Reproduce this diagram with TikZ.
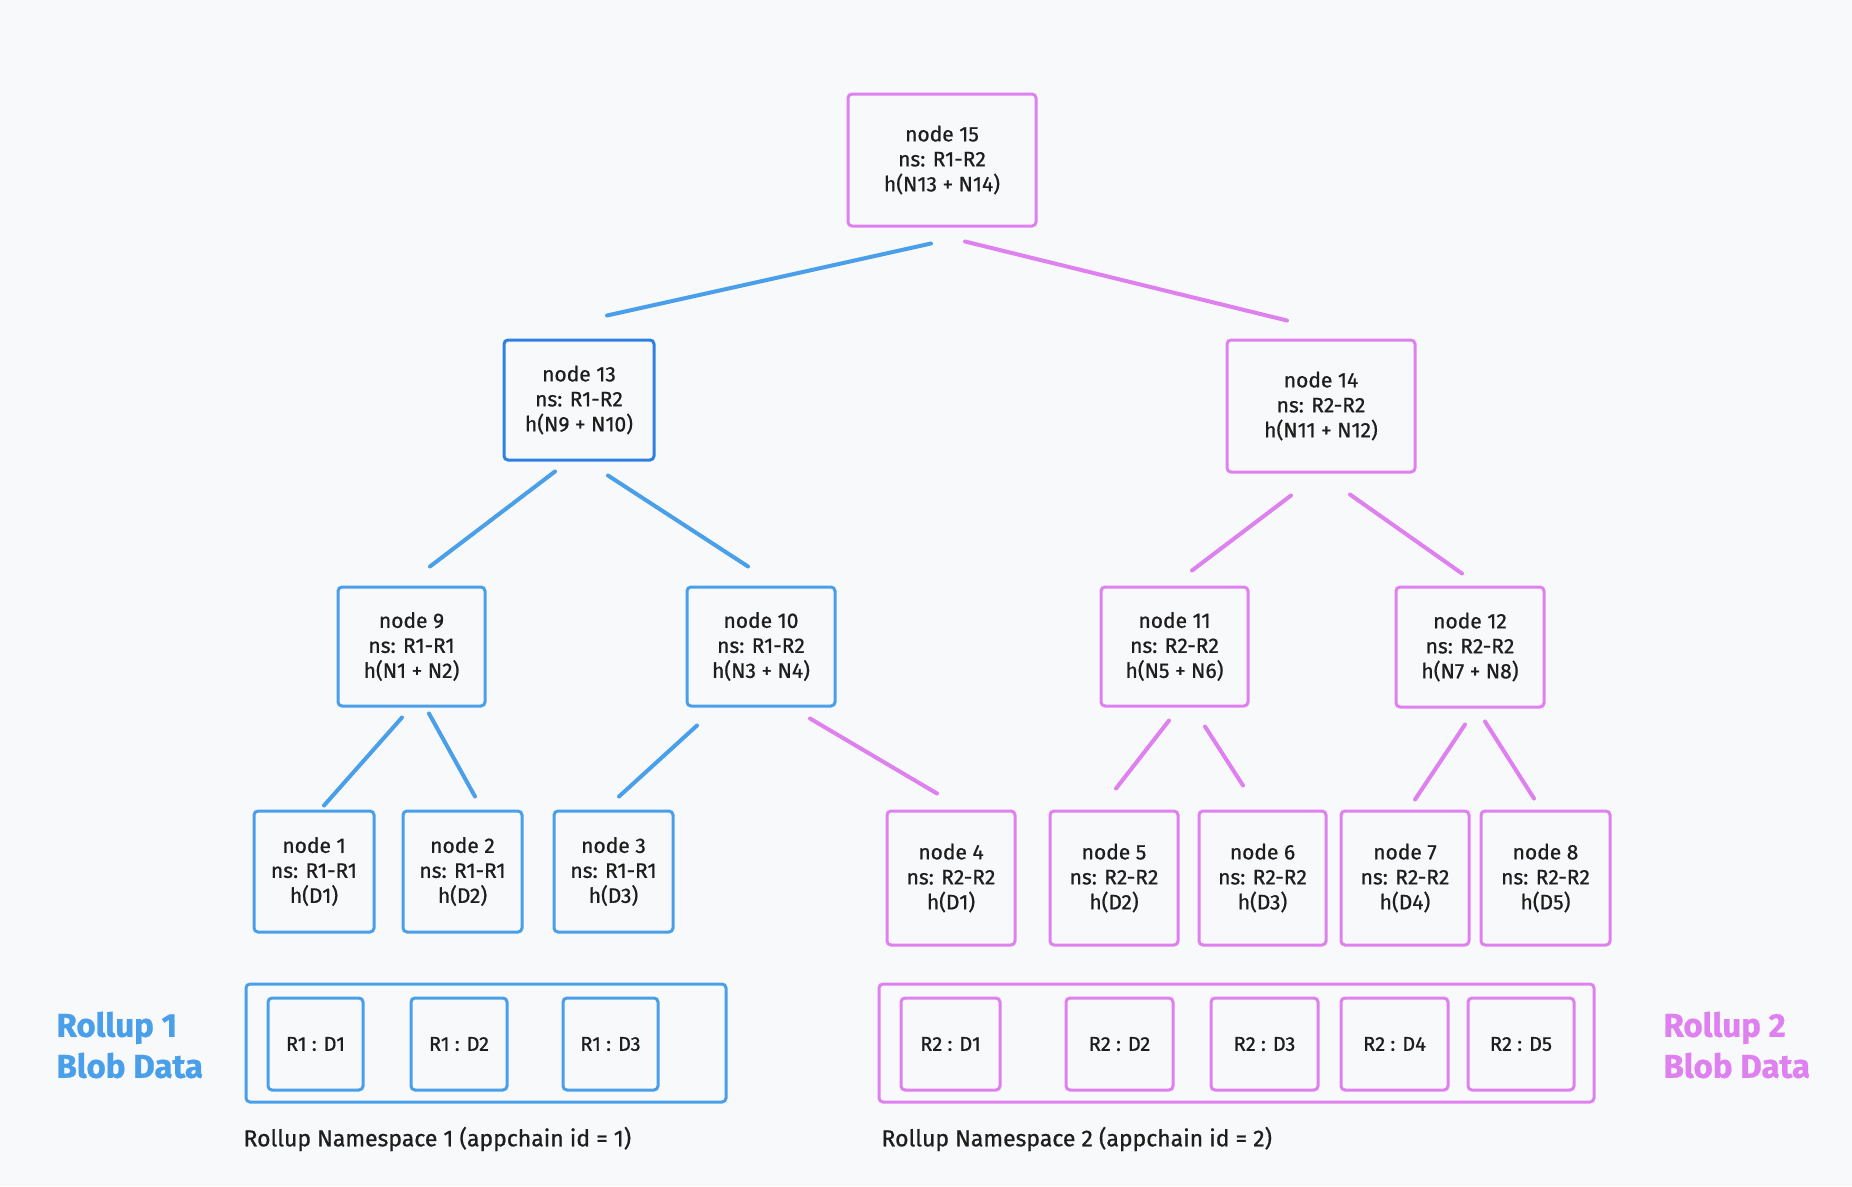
\documentclass[tikz,border=0pt]{standalone}
\usepackage{fontspec}
\setmainfont{Fira Sans}[FakeBold=0.8]
\usetikzlibrary{calc}
\definecolor{bg}{HTML}{F8F9FB}
\definecolor{bl}{HTML}{4A9FEB}
\definecolor{bldark}{HTML}{2F80E4}
\definecolor{pk}{HTML}{DF80F0}
\definecolor{ink}{HTML}{1E1E1E}
\tikzset{
  box/.style={draw, line width=3pt, rounded corners=4pt, fill=bg, inner sep=0pt, align=center, text=ink,
    font=\fontsize{21}{25}\selectfont},
  bbox/.style={box, draw=bl},
  pbox/.style={box, draw=pk},
  blob/.style={draw, line width=3pt, rounded corners=4pt, inner sep=0pt, text=ink, font=\fontsize{20}{22}\selectfont},
  bline/.style={draw=bl, line width=4pt, line cap=round},
  pline/.style={draw=pk, line width=4pt, line cap=round},
  biglabel/.style={anchor=west, align=left, font=\fontsize{33}{41}\selectfont\bfseries},
  caption/.style={anchor=west, text=ink, font=\fontsize{23}{24}\selectfont},
}
\begin{document}
\begin{tikzpicture}[x=1pt,y=-1pt]
\fill[bg] (0,0) rectangle (1852,1186);
\useasboundingbox (0,0) rectangle (1852,1186);

% level 4
\node[pbox, minimum width=188pt, minimum height=132pt] (n15) at (942,160) {node 15\\ns: R1-R2\\h(N13 + N14)};
% level 3
\node[bbox, draw=bldark, minimum width=150pt, minimum height=120pt] (n13) at (579,400) {node 13\\ns: R1-R2\\h(N9 + N10)};
\node[pbox, minimum width=188pt, minimum height=132pt] (n14) at (1321,406) {node 14\\ns: R2-R2\\h(N11 + N12)};
% level 2
\node[bbox, minimum width=147pt, minimum height=119pt] (n9) at (411.5,646.5) {node 9\\ns: R1-R1\\h(N1 + N2)};
\node[bbox, minimum width=148pt, minimum height=119pt] (n10) at (761,646.5) {node 10\\ns: R1-R2\\h(N3 + N4)};
\node[pbox, minimum width=147pt, minimum height=119pt] (n11) at (1174.5,646.5) {node 11\\ns: R2-R2\\h(N5 + N6)};
\node[pbox, minimum width=148pt, minimum height=120pt] (n12) at (1470,647) {node 12\\ns: R2-R2\\h(N7 + N8)};
% leaves
\node[bbox, minimum width=120pt, minimum height=121pt] (n1) at (314,871.5) {node 1\\ns: R1-R1\\h(D1)};
\node[bbox, minimum width=119pt, minimum height=121pt] (n2) at (462.5,871.5) {node 2\\ns: R1-R1\\h(D2)};
\node[bbox, minimum width=119pt, minimum height=121pt] (n3) at (613.5,871.5) {node 3\\ns: R1-R1\\h(D3)};
\node[pbox, minimum width=128pt, minimum height=134pt] (n4) at (951,878) {node 4\\ns: R2-R2\\h(D1)};
\node[pbox, minimum width=128pt, minimum height=134pt] (n5) at (1114,878) {node 5\\ns: R2-R2\\h(D2)};
\node[pbox, minimum width=127pt, minimum height=134pt] (n6) at (1262.5,878) {node 6\\ns: R2-R2\\h(D3)};
\node[pbox, minimum width=128pt, minimum height=134pt] (n7) at (1405,878) {node 7\\ns: R2-R2\\h(D4)};
\node[pbox, minimum width=129pt, minimum height=134pt] (n8) at (1545.5,878) {node 8\\ns: R2-R2\\h(D5)};

% connectors
\draw[bline] ($(n15.south)+(-11,16)$) -- ($(n13.north)+(28,-23)$);
\draw[pline] ($(n15.south)+(23,14)$) -- ($(n14.north)+(-34,-18)$);
\draw[bline] ($(n13.south)+(-24,10)$) -- ($(n9.north)+(18.5,-19)$);
\draw[bline] ($(n13.south)+(29,14)$) -- ($(n10.north)+(-13,-19)$);
\draw[pline] ($(n14.south)+(-30,22)$) -- ($(n11.north)+(17.5,-15)$);
\draw[pline] ($(n14.south)+(29,21)$) -- ($(n12.north)+(-8,-12)$);
\draw[bline] ($(n9.south)+(-9.5,10)$) -- ($(n1.north)+(10,-4)$);
\draw[bline] ($(n9.south)+(17.5,6)$) -- ($(n2.north)+(12.5,-13)$);
\draw[bline] ($(n10.south)+(-64,18)$) -- ($(n3.north)+(5.5,-13)$);
\draw[pline] ($(n10.south)+(49,11)$) -- ($(n4.north)+(-14,-16)$);
\draw[pline] ($(n11.south)+(-5.5,13)$) -- ($(n5.north)+(2,-21)$);
\draw[pline] ($(n11.south)+(30.5,19)$) -- ($(n6.north)+(-19.5,-24)$);
\draw[pline] ($(n12.south)+(-5,16)$) -- ($(n7.north)+(10,-10)$);
\draw[pline] ($(n12.south)+(15,13)$) -- ($(n8.north)+(-11.5,-11)$);

% blob containers
\node[blob, draw=bl, minimum width=480pt, minimum height=118pt] (c1) at (486,1043) {};
\node[blob, draw=bl, minimum width=95pt, minimum height=92pt] (d11) at (315.5,1044) {R1 : D1};
\node[blob, draw=bl, minimum width=96pt, minimum height=92pt] (d12) at (459,1044) {R1 : D2};
\node[blob, draw=bl, minimum width=95pt, minimum height=92pt] (d13) at (610.5,1044) {R1 : D3};

\node[blob, draw=pk, minimum width=715pt, minimum height=118pt] (c2) at (1236.5,1043) {};
\node[blob, draw=pk, minimum width=99pt, minimum height=92pt] (d21) at (950.5,1044) {R2 : D1};
\node[blob, draw=pk, minimum width=107pt, minimum height=92pt] (d22) at (1119.5,1044) {R2 : D2};
\node[blob, draw=pk, minimum width=107pt, minimum height=92pt] (d23) at (1264.5,1044) {R2 : D3};
\node[blob, draw=pk, minimum width=107pt, minimum height=92pt] (d24) at (1394.5,1044) {R2 : D4};
\node[blob, draw=pk, minimum width=106pt, minimum height=92pt] (d25) at (1521,1044) {R2 : D5};

% labels
\node[biglabel, text=bl] (r1) at (53,1045) {Rollup 1\\Blob Data};
\node[biglabel, text=pk] (r2) at (1660,1045) {Rollup 2\\Blob Data};
\node[caption] (cap1) at (240,1139) {Rollup Namespace 1 (appchain id = 1)};
\node[caption] (cap2) at (878,1139) {Rollup Namespace 2 (appchain id = 2)};
\end{tikzpicture}
\end{document}
